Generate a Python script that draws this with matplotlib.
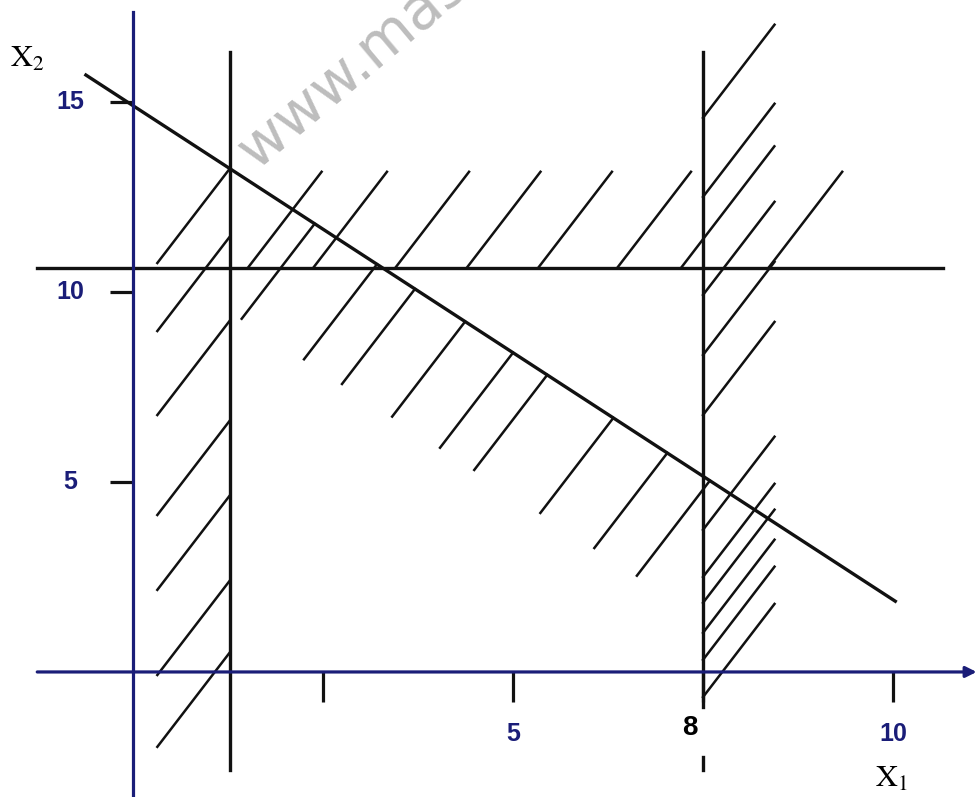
import numpy as np
import matplotlib.pyplot as plt

plt.rcParams['mathtext.fontset'] = 'stix'

# constraint lines (data units)
x_left = 1.28          # vertical line, left
x_right = 7.5          # vertical line, right (labelled 8)
y_horiz = 10.63        # horizontal line
diag_b, diag_m = 14.9, -1.3   # x2 = 14.9 - 1.3 x1
diag_x = [-0.62, 10.03]

ytick_vals = [5, 10, 15]
ytick_labels = ['5', '10', '15']
xtick_vals = [2.5, 5, 7.5, 10]
xtick_labels = ['', '5', '', '10']

# hatch marks (hand drawn in the original)
left_hatch_top = [13.26, 11.47, 9.26, 6.63, 4.66, 2.42, 0.53]   # upper ends on x_left
top_hatch_x = [1.51, 2.37, 3.45, 4.39, 5.33, 6.37, 7.21, 8.36]   # lower ends on y_horiz
top_hatch_rise = [2.53, 2.53, 2.53, 2.53, 2.53, 2.53, 3.2, 2.53]
diag_hatch_x = [2.39, 3.21, 3.71, 4.37, 5.0, 5.45, 6.32, 7.03, 7.59]  # upper ends on diagonal
right_hatch_y = [14.58, 12.5, 9.92, 8.34, 6.76, 3.74, 2.5, 1.82, 1.03, 0.32, -0.66]  # lower ends on x_right

rise = 2.5
run_per_rise = 0.384

navy = '#1a1d78'
ink = '#111111'

fig = plt.figure(figsize=(9.77, 7.97), dpi=100)
ax = fig.add_axes([0, 0, 1, 1])
ax.set_xlim(-1.75, 11.105)
ax.set_ylim(-3.29, 17.68)
ax.axis('off')

# watermark
ax.text(1.62, 13.2, 'www.mas', rotation=40, rotation_mode='anchor',
        fontsize=42, color='#bdbdbd', ha='left', va='baseline', zorder=0)

# axes
ax.plot([0, 0], [-3.29, 17.37], color=navy, lw=2.3, zorder=3)
ax.annotate('', xy=(11.1, 0), xytext=(-1.26, 0),
            arrowprops=dict(arrowstyle='-|>', color=navy, lw=2.3,
                            mutation_scale=16, shrinkA=0, shrinkB=0), zorder=3)

# ticks
ax.hlines(ytick_vals, -0.3, 0, color=ink, lw=2.3)
ax.vlines(xtick_vals, -0.79, 0, color=ink, lw=2.3)
for v, s in zip(ytick_vals, ytick_labels):
    ax.text(-0.82, v, s, color=navy, fontsize=18, fontweight='bold',
            family='Liberation Sans', ha='center', va='center')
for v, s in zip(xtick_vals, xtick_labels):
    ax.text(v, -1.62, s, color=navy, fontsize=18, fontweight='bold',
            family='Liberation Sans', ha='center', va='center')
ax.text(7.33, -1.47, '8', color='black', fontsize=20, fontweight='bold',
        family='Liberation Sans', ha='center', va='center')

# constraint lines
ax.plot([x_left, x_left], [-2.58, 16.32], color=ink, lw=2.4)
ax.plot([x_right, x_right], [-0.92, 16.32], color=ink, lw=2.4)
ax.plot([x_right, x_right], [-2.24, -2.58], color=ink, lw=2.4)
ax.plot([-1.26, 10.66], [y_horiz, y_horiz], color=ink, lw=2.4)
dx = np.array(diag_x)
ax.plot(dx, diag_b + diag_m * dx, color=ink, lw=2.4)

# hatching
hw = 1.8
for yt in left_hatch_top:
    ax.plot([x_left - run_per_rise * rise, x_left], [yt - rise, yt], color=ink, lw=hw)
for xs, r in zip(top_hatch_x, top_hatch_rise):
    ax.plot([xs, xs + run_per_rise * r], [y_horiz, y_horiz + r], color=ink, lw=hw)
for xe in diag_hatch_x:
    ye = diag_b + diag_m * xe
    ax.plot([xe - run_per_rise * rise, xe], [ye - rise, ye], color=ink, lw=hw)
for ys in right_hatch_y:
    r = 2.45
    ax.plot([x_right, x_right + run_per_rise * r], [ys, ys + r], color=ink, lw=hw)

# axis names
ax.text(-1.62, 15.92, r'$\mathrm{X}_2$', fontsize=22, ha='left', va='baseline')
ax.text(9.76, -3.03, r'$\mathrm{X}_1$', fontsize=22, ha='left', va='baseline')

fig.savefig('out.png', dpi=100)
